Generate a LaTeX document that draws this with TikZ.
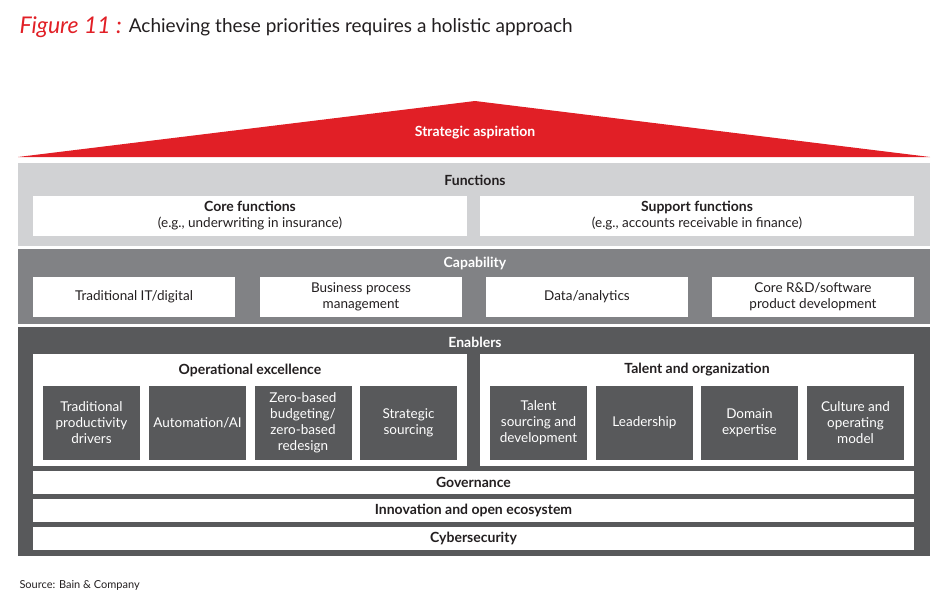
\documentclass[tikz,border=0pt]{standalone}
\usepackage{fontspec}
\setmainfont{Lato}
\definecolor{bainred}{HTML}{E11F26}
\definecolor{lightband}{HTML}{D1D2D4}
\definecolor{midband}{HTML}{818285}
\definecolor{darkband}{HTML}{58595B}
\definecolor{txt}{HTML}{231F20}
\tikzset{
  band/.style={inner sep=0pt, outer sep=0pt},
  whitebox/.style={fill=white, inner sep=0pt, align=center, text=txt, font=\fontsize{13.5}{16}\selectfont},
  darkbox/.style={fill=darkband, inner sep=0pt, align=center, text=white, font=\fontsize{13.5}{16}\selectfont},
  bandtitle/.style={font=\bfseries\fontsize{14}{16}\selectfont},
  strip/.style={fill=white, inner sep=0pt, text=txt, font=\bfseries\fontsize{14}{16}\selectfont}
}
\begin{document}
\begin{tikzpicture}[x=1pt, y=-1pt]
\useasboundingbox (0,0) rectangle (950,613);
% title
\node[anchor=west, text=bainred, font=\itshape\fontsize{23}{25}\selectfont] (fig) at (16,27) {Figure 11 :};
\node[anchor=west, text=txt, font=\fontsize{19}{21}\selectfont] (title) at (fig.east) {Achieving these priorities requires a holistic approach};
% roof
\fill[bainred] (18,157) -- (475,101) -- (930,157) -- cycle;
\node[text=white, font=\bfseries\fontsize{14}{16}\selectfont] (aspiration) at (475,133) {Strategic aspiration};
% functions
\fill[lightband] (18,163) rectangle (930,246);
\node[bandtitle, text=txt] (functions) at (475,180) {Functions};
\node[whitebox, minimum width=434pt, minimum height=40pt] (core) at (250,216) {{\bfseries\fontsize{14}{16}\selectfont Core functions}\\(e.g., underwriting in insurance)};
\node[whitebox, minimum width=434pt, minimum height=40pt] (support) at (697,216) {{\bfseries\fontsize{14}{16}\selectfont Support functions}\\(e.g., accounts receivable in finance)};
% capability
\fill[midband] (18,249) rectangle (930,324);
\node[bandtitle, text=white] (capability) at (475,263) {Capability};
\foreach \x/\name/\lbl in {134/itdig/{Traditional IT/digital}, 361/bpm/{Business process\\management}, 587/data/{Data/analytics}, 813/rnd/{Core R\&D/software\\product development}}
  \node[whitebox, minimum width=202pt, minimum height=40pt] (\name) at (\x,297) {\lbl};
% enablers
\fill[darkband] (18,327) rectangle (930,556);
\node[bandtitle, text=white] (enablers) at (475,342) {Enablers};
\node[whitebox, minimum width=434pt, minimum height=112pt] (opex) at (250,410) {};
\node[whitebox, minimum width=434pt, minimum height=112pt] (talorg) at (697,410) {};
\node[bandtitle, text=txt] (opextitle) at (250,370) {Operational excellence};
\node[bandtitle, text=txt] (talorgtitle) at (697,370) {Talent and organization};
\foreach \x/\name/\lbl in {91.5/tpd/{Traditional\\productivity\\drivers}, 197.5/auto/{Automation/AI}, 303/zbb/{Zero-based\\budgeting/\\zero-based\\redesign}, 408.5/sourcing/{Strategic\\sourcing},
  538.5/talent/{Talent\\sourcing and\\development}, 644.5/lead/{Leadership}, 749.5/domain/{Domain\\expertise}, 855.5/culture/{Culture and\\operating\\model}}
  \node[darkbox, minimum width=97pt, minimum height=74pt] (\name) at (\x,423) {\lbl};
\node[strip, minimum width=881pt, minimum height=23pt] (gov) at (473.5,482.5) {Governance};
\node[strip, minimum width=881pt, minimum height=23pt] (innov) at (473.5,510.5) {Innovation and open ecosystem};
\node[strip, minimum width=881pt, minimum height=23pt] (cyber) at (473.5,538.5) {Cybersecurity};
% source
\node[anchor=west, text=txt, font=\fontsize{11}{13}\selectfont] (source) at (16,585) {Source: Bain \& Company};
\end{tikzpicture}
\end{document}
